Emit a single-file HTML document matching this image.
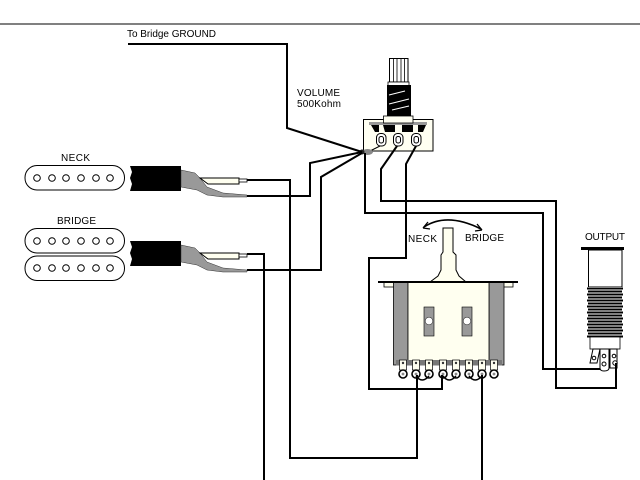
<!DOCTYPE html>
<html><head><meta charset="utf-8"><style>
html,body{margin:0;padding:0;background:#fff}
svg{display:block}
text{font-family:"Liberation Sans",sans-serif;font-size:10px;fill:#000}
</style></head><body>
<svg width="640" height="480" viewBox="0 0 640 480" xmlns="http://www.w3.org/2000/svg">
<defs>
<g id="lead">
<path d="M130,166H181V191H130L132,184L130,178L132,172Z" fill="#000"/>
<path d="M181,170L195,173L200,178L207,187L223,193L247,195V197L223,197L207,195L197,190L181,187Z" fill="#999" stroke="#333" stroke-width=".5"/>
<path d="M200,178H239V184H208Z" fill="#fffff0" stroke="#000"/>
<rect x="239" y="179" width="8" height="3" fill="#fff" stroke="#000" stroke-width=".8"/>
</g>
<g id="poles" fill="#fff" stroke="#000" stroke-width="1">
<circle cx="37" cy="0" r="3.3"/><circle cx="52" cy="0" r="3.3"/><circle cx="66" cy="0" r="3.3"/><circle cx="81" cy="0" r="3.3"/><circle cx="96" cy="0" r="3.3"/><circle cx="110" cy="0" r="3.3"/>
</g>
<g id="lug"><rect x="-3.5" y="-14" width="7" height="10" fill="#fffff0" stroke="#000" stroke-width=".7"/><circle cy="-11" r="1.2" fill="#333"/><circle cy="0" r="4" fill="#fff" stroke="#000" stroke-width="1.6"/><circle cy="0" r="1.4" fill="#888"/></g>
</defs>

<rect x="0" y="23.5" width="640" height="1" fill="#000"/>

<!-- pickups -->
<g fill="#fff" stroke="#000" stroke-width="1">
<rect x="25" y="165.500" width="99.500" height="24.500" rx="12"/>
<rect x="25" y="228.500" width="99.500" height="24.500" rx="12"/>
<rect x="25" y="256" width="99.500" height="24.500" rx="12"/>
</g>
<use href="#poles" y="178"/><use href="#poles" y="241"/><use href="#poles" y="268"/>
<use href="#lead"/><use href="#lead" y="75"/>

<!-- pot -->
<rect x="389.500" y="58.500" width="18.500" height="23.500" fill="#fff" stroke="#000"/>
<path d="M393.500,58V82M397,58V82M401,58V82M404.500,58V82" stroke="#000" stroke-width=".8"/>
<rect x="388" y="82" width="21" height="4" fill="#fff" stroke="#000" stroke-width=".8"/>
<rect x="387" y="85" width="24" height="32" fill="#000"/>
<path d="M389,95L405,91M389,104L409,99M392,110L409,106" stroke="#fff" stroke-width="1" fill="none"/>
<rect x="363.500" y="119.500" width="69.500" height="31.500" fill="#fffff2" stroke="#000" stroke-width="1"/>
<rect x="369" y="122" width="58" height="3" fill="#999"/>
<path d="M371,125H379V132L375,132ZM383,125H395V132H385ZM402,125H413V132H402ZM418,125H426L423,132H418Z" fill="#000"/>
<rect x="383.500" y="116" width="29.500" height="7" fill="#fffff2" stroke="#000" stroke-width=".8"/>
<g fill="#fff" stroke="#000" stroke-width="1">
<rect x="376.500" y="133.500" width="9.500" height="12.500" rx="4"/><rect x="393.500" y="133.500" width="9.500" height="12.500" rx="4"/><rect x="411.500" y="133.500" width="9.500" height="12.500" rx="4"/>
<rect x="379" y="136.500" width="4.500" height="6.500" rx="2"/><rect x="396" y="136.500" width="4.500" height="6.500" rx="2"/><rect x="414" y="136.500" width="4.500" height="6.500" rx="2"/>
</g>
<path d="M380,146L370,151" stroke="#000" stroke-width="1"/>
<ellipse cx="367.500" cy="152" rx="5.500" ry="3" fill="#888"/>
<circle cx="362" cy="152" r="2.500" fill="#222"/>

<!-- switch -->
<path d="M443,228H453V252L456,255V270L459,276L466,282H430L438,276L441,270V255L443,252Z" fill="#fffff0" stroke="#000" stroke-width="1"/>
<rect x="384" y="282" width="11" height="5" fill="#fffff0" stroke="#000" stroke-width=".8"/>
<rect x="502" y="282" width="11" height="5" fill="#fffff0" stroke="#000" stroke-width=".8"/>
<rect x="393.500" y="282" width="14.500" height="83" fill="#999" stroke="#000" stroke-width=".8"/>
<rect x="489" y="282" width="15" height="83" fill="#999" stroke="#000" stroke-width=".8"/>
<rect x="408" y="282" width="81" height="78" fill="#fffff0"/>
<path d="M408,282V360M489,282V360" stroke="#000" stroke-width=".8"/>
<rect x="378" y="281" width="140" height="2" fill="#000"/>
<rect x="424" y="307" width="10" height="29" fill="#999" stroke="#000" stroke-width=".6"/>
<rect x="462" y="307" width="10" height="29" fill="#999" stroke="#000" stroke-width=".6"/>
<circle cx="429" cy="321" r="3.800" fill="#fff" stroke="#333" stroke-width=".6"/>
<circle cx="467" cy="321" r="3.800" fill="#fff" stroke="#333" stroke-width=".6"/>
<rect x="396" y="360" width="106" height="5.500" fill="#777"/>
<use href="#lug" x="403" y="374"/><use href="#lug" x="416" y="374"/><use href="#lug" x="429" y="374"/><use href="#lug" x="443" y="374"/><use href="#lug" x="456" y="374"/><use href="#lug" x="469" y="374"/><use href="#lug" x="482" y="374"/><use href="#lug" x="494" y="374"/>
<path d="M416,376Q422,384 429,376M443,376Q449,384 456,376M469,376Q475,384 482,376" fill="none" stroke="#000" stroke-width="1.500"/>
<path d="M424,227Q447,212 481,229" fill="none" stroke="#000" stroke-width="1.600"/>
<path d="M423,228L428,222M423,228L430,229M482,230L477,224M482,230L475,231" stroke="#000" stroke-width="1.300"/>

<!-- jack -->
<rect x="581" y="247" width="43" height="3" fill="#000"/>
<rect x="588.500" y="250" width="33.500" height="37" fill="#fff" stroke="#000"/>
<rect x="587" y="287" width="36" height="50" fill="#fff"/>
<path d="M587,288.500H623M588,291.500H622M587,294.500H623M588,297.500H622M587,300.500H623M588,303.500H622M587,306.500H623M588,309.500H622M587,312.500H623M588,315.500H622M587,318.500H623M588,321.500H622M587,324.500H623M588,327.500H622M587,330.500H623M588,333.500H622M587,336.500H623" stroke="#000" stroke-width="2"/>
<rect x="590" y="337" width="30" height="12" fill="#fff" stroke="#000" stroke-width=".8"/>
<g fill="#fff" stroke="#000" stroke-width="1">
<path d="M593,349H600L597,363H590Z"/>
<path d="M600,349H609V368Q609,371 604,371Q600,371 600,368Z"/>
<path d="M610,349H617V368H610Z"/>
<circle cx="594" cy="358" r="1.800"/><circle cx="604" cy="356" r="1.800"/><circle cx="604" cy="364" r="2"/><circle cx="614" cy="356" r="1.800"/><circle cx="615" cy="363" r="2.200"/>
</g>

<!-- wires -->
<g fill="none" stroke="#000" stroke-width="2">
<path d="M128,44H287V128L362,152"/>
<path d="M247,180H290V458H417V375"/>
<path d="M247,196H310V163L362,152"/>
<path d="M247,254H264V480"/>
<path d="M247,270H321V177L362,153"/>
<path d="M365,153V213H543V369H600"/>
<path d="M397,146L381,169V201H556V388H616V363"/>
<path d="M416,146L406,164V258H369V389H442V375"/>
<path d="M482,375V480"/>
</g>

<!-- labels -->
<text x="127" y="37" textLength="89" lengthAdjust="spacing">To Bridge GROUND</text>
<text x="297" y="96" textLength="43" lengthAdjust="spacing">VOLUME</text>
<text x="297" y="107" textLength="44" lengthAdjust="spacing">500Kohm</text>
<text x="61" y="161" textLength="29" lengthAdjust="spacing">NECK</text>
<text x="57" y="224" textLength="39" lengthAdjust="spacing">BRIDGE</text>
<text x="408" y="242" textLength="29" lengthAdjust="spacing">NECK</text>
<text x="465" y="241" textLength="39" lengthAdjust="spacing">BRIDGE</text>
<text x="585" y="240" textLength="40" lengthAdjust="spacing">OUTPUT</text>
</svg>
</body></html>
